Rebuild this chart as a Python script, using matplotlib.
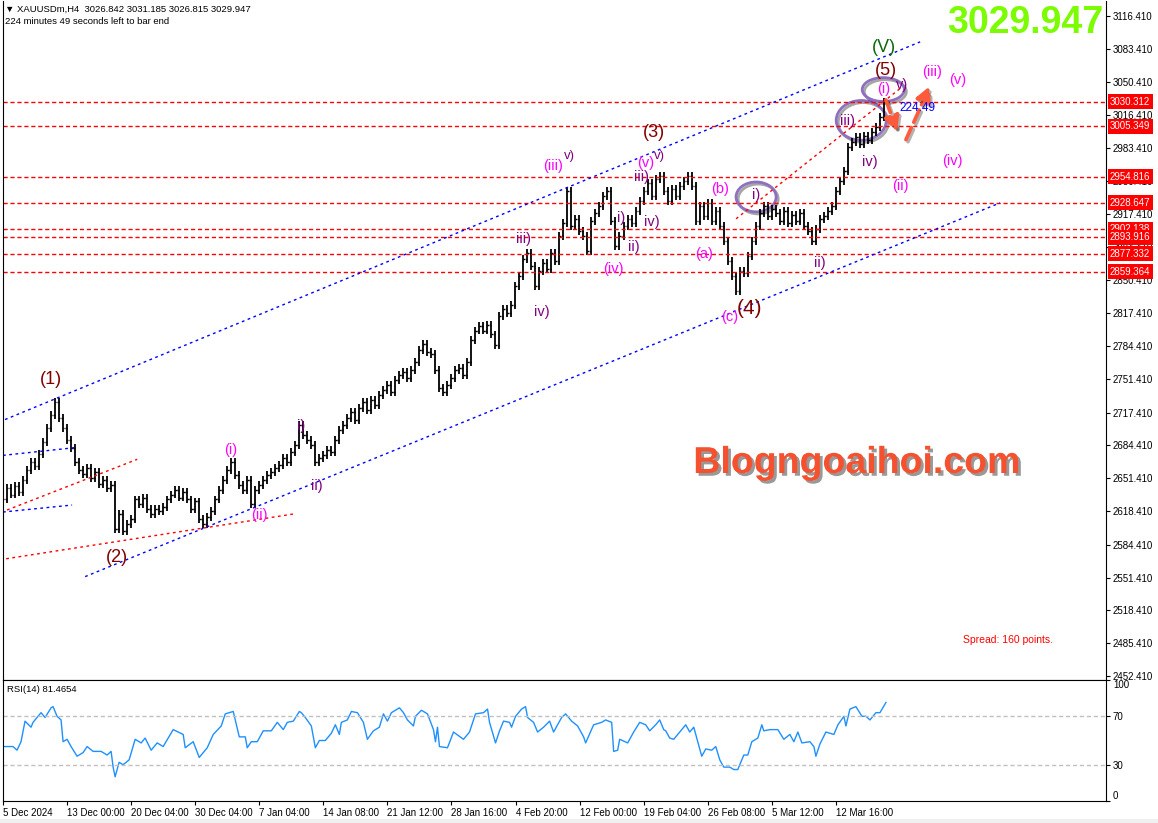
import numpy as np
import matplotlib.pyplot as plt
import matplotlib.patheffects as pe
from matplotlib.patches import Ellipse, Rectangle
from matplotlib.transforms import blended_transform_factory

plt.rcParams['font.family'] = ['Liberation Sans', 'DejaVu Sans']

# XAUUSDm H4 - closes read every 2 bars (bar index 0, 2, 4 ... 440)
close_8h = [
    2630, 2642, 2635, 2644, 2638, 2650, 2660, 2668, 2664, 2676,
    2688, 2702, 2715, 2728, 2712, 2702, 2690, 2682, 2668, 2660,
    2656, 2662, 2652, 2658, 2646, 2650, 2642, 2645, 2600, 2615,
    2598, 2605, 2610, 2630, 2625, 2632, 2620, 2615, 2620, 2618,
    2622, 2630, 2635, 2640, 2632, 2638, 2630, 2620, 2628, 2610,
    2605, 2612, 2618, 2630, 2640, 2650, 2660, 2668, 2655, 2645,
    2640, 2650, 2625, 2640, 2645, 2650, 2655, 2658, 2662, 2665,
    2672, 2668, 2678, 2685, 2705, 2695, 2690, 2685, 2668, 2672,
    2675, 2680, 2678, 2690, 2700, 2705, 2712, 2718, 2710, 2722,
    2728, 2720, 2730, 2725, 2735, 2740, 2745, 2738, 2750, 2755,
    2758, 2752, 2760, 2768, 2780, 2786, 2778, 2776, 2760, 2742,
    2738, 2745, 2752, 2760, 2762, 2755, 2768, 2790, 2800, 2805,
    2800, 2806, 2796, 2785, 2815, 2822, 2818, 2826, 2845, 2855,
    2872, 2878, 2865, 2845, 2860, 2868, 2862, 2878, 2870, 2895,
    2908, 2940, 2905, 2912, 2900, 2895, 2880, 2910, 2918, 2925,
    2935, 2940, 2910, 2885, 2895, 2905, 2912, 2908, 2920, 2930,
    2940, 2948, 2935, 2952, 2955, 2940, 2930, 2942, 2935, 2945,
    2950, 2955, 2945, 2910, 2925, 2915, 2928, 2910, 2920, 2905,
    2890, 2870, 2855, 2840, 2860, 2858, 2875, 2890, 2905, 2918,
    2925, 2915, 2922, 2918, 2910, 2920, 2908, 2916, 2910, 2918,
    2905, 2900, 2890, 2902, 2912, 2915, 2920, 2925, 2940, 2950,
    2960, 2985, 2990, 2995, 2988, 2996, 2992, 3000, 3005, 3015,
    3029.947,
]

# RSI(14) readings: bar index, value
rsi_bar = [0, 5, 7, 9, 11, 14, 15, 19, 21, 24, 25, 27, 29, 30, 32, 34, 37, 40, 42, 45,
           49, 52, 54, 55, 56, 58, 60, 63, 66, 69, 71, 74, 77, 80, 85, 90, 91, 95, 98, 102,
           105, 109, 111, 115, 116, 118, 121, 122, 124, 127, 130, 134, 137, 140, 142, 145, 148,
           149, 151, 154, 156, 158, 161, 164, 166, 168, 169, 172, 174, 177, 180, 182, 185, 188,
           190, 192, 194, 198, 200, 202, 205, 206, 209, 212, 215, 216, 217, 218, 222, 225, 230,
           233, 236, 240, 242, 243, 246, 248, 250, 253, 254, 256, 259, 261, 262, 265, 267, 270,
           273, 275, 279, 281, 284, 287, 290, 291, 295, 299, 301, 304, 305, 307, 308, 312, 315,
           318, 321, 323, 326, 328, 330, 331, 333, 335, 338, 341, 343, 345, 347, 349, 351, 354,
           356, 358, 360, 363, 365, 367, 370, 372, 374, 377, 379, 380, 383, 387, 390, 393, 395,
           397, 399, 403, 405, 406, 408, 411, 415, 417, 420, 421, 423, 426, 429, 431, 433, 436,
           438, 441]
rsi_val = [45, 45, 42, 49, 66, 61, 65, 73, 69, 77, 78, 70, 67, 49, 51, 45, 37, 40, 45, 41,
           41, 38, 41, 28, 20, 32, 30, 34, 51, 48, 52, 42, 48, 45, 59, 55, 44, 49, 36, 44,
           55, 62, 72, 74, 67, 53, 53, 44, 49, 49, 58, 58, 65, 59, 65, 66, 74,
           73, 69, 62, 44, 50, 50, 56, 63, 55, 65, 67, 74, 73, 65, 51, 58, 61,
           72, 66, 73, 77, 73, 67, 62, 70, 75, 72, 59, 49, 61, 45, 44, 57, 51,
           57, 72, 73, 76, 65, 48, 58, 66, 65, 61, 70, 76, 78, 69, 65, 57, 61,
           66, 57, 69, 72, 66, 62, 53, 48, 63, 65, 67, 65, 41, 42, 51, 48, 57,
           65, 63, 58, 63, 67, 59, 58, 52, 51, 57, 63, 57, 61, 49, 37, 43, 42,
           45, 34, 28, 28, 26, 26, 38, 38, 49, 52, 63, 58, 59, 59, 51, 55, 49,
           57, 48, 49, 45, 37, 47, 57, 55, 63, 70, 62, 76, 78, 70, 70, 67, 73,
           73, 81.47]

levels = [3030.312, 3005.349, 2954.816, 2928.647, 2902.138, 2893.916, 2877.332, 2859.364]
price_ticks = [2452.41, 2485.41, 2518.41, 2551.41, 2584.41, 2618.41, 2651.41, 2684.41,
               2717.41, 2751.41, 2784.41, 2817.41, 2850.41, 2884.41, 2917.41, 2950.41,
               2983.41, 3016.41, 3050.41, 3083.41, 3116.41]
date_bars = [0, 32, 64, 96, 128, 160, 192, 224, 256, 288, 320, 352, 384, 416]
date_labels = ['5 Dec 2024', '13 Dec 00:00', '20 Dec 04:00', '30 Dec 04:00', '7 Jan 04:00',
               '14 Jan 08:00', '21 Jan 12:00', '28 Jan 16:00', '4 Feb 20:00', '12 Feb 00:00',
               '19 Feb 04:00', '26 Feb 08:00', '5 Mar 12:00', '12 Mar 16:00']

# wave labels: text, bar, price, colour, size
maroon, magenta, purple, green = '#800000', '#ff00ff', '#800080', '#0a6a0a'
big, mid, sup = 13, 10.5, 9.5
waves = [
    ('(1)', 24, 2751, maroon, big), ('(2)', 57, 2572, maroon, big), ('(3)', 325, 2999, maroon, big),
    ('(4)', 373, 2822, maroon, 15), ('(5)', 441, 3062, maroon, big), ('(V)', 440, 3085, green, big),
    ('(i)', 114, 2680, magenta, mid), ('(ii)', 128, 2614, magenta, mid), ('(iii)', 275, 2966, magenta, mid),
    ('(iv)', 305, 2862, magenta, mid), ('(v)', 321, 2969, magenta, mid), ('(a)', 350, 2877, magenta, mid),
    ('(b)', 358, 2942, magenta, mid), ('(c)', 363, 2814, magenta, mid), ('(ii)', 448, 2945, magenta, mid),
    ('(iv)', 474, 2971, magenta, mid), ('(iii)', 464, 3060, magenta, mid), ('(v)', 477, 3052, magenta, mid),
    ('(i)', 440, 3043, magenta, mid),
    ('i)', 149, 2704, purple, mid), ('ii)', 157, 2644, purple, mid), ('iii)', 260, 2892, purple, mid),
    ('iv)', 269, 2819, purple, mid), ('v)', 283, 2976, purple, sup), ('i)', 309, 2913, purple, mid),
    ('ii)', 315, 2884, purple, mid), ('iii)', 319, 2954, purple, mid), ('iv)', 324, 2909, purple, mid),
    ('v)', 328, 2976, purple, sup), ('i)', 376, 2936, purple, mid), ('ii)', 408, 2868, purple, mid),
    ('iii)', 422, 3011, purple, mid), ('iv)', 433, 2970, purple, mid), ('v)', 449, 3047, purple, mid),
]

# trend lines: (bar0, price0, bar1, price1, colour)
trend_lines = [
    (1.2, 2710.4, 458.1, 3090.4, 'blue'), (41.2, 2552.4, 498.0, 2928.4, 'blue'),
    (0.2, 2674.4, 37.2, 2682.4, 'blue'), (0.2, 2617.4, 34.7, 2624.4, 'blue'),
    (2.2, 2619.4, 67.2, 2670.4, 'red'), (-1.3, 2569.4, 145.2, 2615.4, 'red'),
    (366.2, 2912.4, 448.7, 3044.4, 'red'),
]
circles = [(376.2, 2934.4, 20, 30), (428.7, 3011.4, 25, 40), (439.7, 3042.4, 21, 24)]

W, H = 1158, 823
fig = plt.figure(figsize=(W / 100, H / 100), dpi=100)
ax = fig.add_axes([3 / W, 1 - 680 / H, 1103 / W, 679 / H])
rx = fig.add_axes([3 / W, 1 - 801 / H, 1103 / W, 121 / H])

c = np.array(close_8h, float)
o = np.r_[c[0], c[:-1]]
idx = np.arange(len(c)) * 2
ax.vlines(idx, np.minimum(o, c) - 4, np.maximum(o, c) + 4, color='black', lw=1.3)
ax.hlines(o, idx - 0.9, idx, color='black', lw=1)
ax.hlines(c, idx, idx + 0.9, color='black', lw=1)

for lv in levels:
    ax.axhline(lv, color='red', lw=1, ls=(0, (3, 2)))
for b0, p0, b1, p1, col in trend_lines:
    ax.plot([b0, b1], [p0, p1], color=col, lw=1, ls=(0, (2, 2.5)))

for bx, py, w, h in circles:
    ax.add_patch(Ellipse((bx, py), w, h, fill=False, ec='#8f6fbf', lw=2,
                         path_effects=[pe.SimpleLineShadow(offset=(1.5, -1.5), alpha=0.35), pe.Normal()]))

for txt, bx, py, col, fs in waves:
    ax.text(bx, py, txt, color=col, fontsize=fs, ha='center', va='center')

arrow_kw = dict(arrowstyle='-|>,head_width=0.45,head_length=0.9', color='#ff5a3c', lw=2.6,
                ls='--', shrinkA=0, shrinkB=0,
                path_effects=[pe.SimpleLineShadow(offset=(1.5, -1.5), alpha=0.3), pe.Normal()])
ax.annotate('', xy=(446.6, 3000), xytext=(441, 3032), arrowprops=arrow_kw)
ax.annotate('', xy=(463, 3046), xytext=(451, 2992), arrowprops=arrow_kw)
ax.text(448, 3024, '224.49', color='blue', fontsize=8.5, va='center', ha='left')

ax.set_xlim(0.2, 550.9)
ax.set_ylim(2448.4, 3131.5)
ax.set_xticks([])
ax.yaxis.tick_right()
ax.set_yticks(price_ticks)
ax.set_yticklabels([f'{v:.3f}' for v in price_ticks])
ax.tick_params(axis='y', length=3, pad=2, labelsize=7)
ax.spines['top'].set_visible(False)

tr = blended_transform_factory(ax.transAxes, ax.transData)
for lv in levels:
    ax.text(1.0036, lv, f'{lv:.3f}', transform=tr, color='white', fontsize=7, va='center',
            ha='left', clip_on=False, zorder=10,
            bbox=dict(boxstyle='square,pad=0.25', fc='red', ec='none'))

# RSI pane
rx.plot(rsi_bar, rsi_val, color='#1e90ff', lw=1)
for lv in (70, 30):
    rx.axhline(lv, color='#c0c0c0', lw=1, ls=(0, (3, 2)))
rx.set_xlim(0.2, 550.9)
rx.set_ylim(0, 100)
rx.yaxis.tick_right()
rx.set_yticks([0, 30, 70, 100])
rx.set_yticklabels(['0', '30', '70', '100'])
rx.tick_params(axis='y', length=3, pad=2, labelsize=7, colors='black')
ylabs = rx.get_yticklabels()
ylabs[0].set_va('bottom')
ylabs[3].set_va('top')
rx.set_xticks(date_bars)
rx.set_xticklabels(date_labels)
rx.tick_params(axis='x', length=3, pad=2, labelsize=7)
for lab in rx.get_xticklabels():
    lab.set_ha('left')

fig.text(5 / W, 1 - 9 / H, '\u25bc XAUUSDm,H4  3026.842 3031.185 3026.815 3029.947', fontsize=6.8, va='center')
fig.text(5 / W, 1 - 22 / H, '224 minutes 49 seconds left to bar end', fontsize=6.8, va='center')
fig.text(7 / W, 1 - 689 / H, 'RSI(14) 81.4654', fontsize=6.8, va='center')
fig.text(1103 / W, 1 - 23 / H, '3029.947', fontsize=27, fontweight='bold', color='#7cfc00',
         ha='right', va='center')
fig.text(857 / W, 1 - 463 / H, 'Blogngoaihoi.com', fontsize=27, fontweight='bold', color='#f5512e',
         ha='center', va='center',
         path_effects=[pe.withSimplePatchShadow(offset=(2, -2), shadow_rgbFace='#555555', alpha=0.6)])
fig.text(963 / W, 1 - 640 / H, 'Spread: 160 points.', fontsize=7.5, color='red', va='center')
fig.patches.append(Rectangle((0, 0), 1, 4 / H, transform=fig.transFigure, fc='#f0f0f0', ec='none'))

fig.savefig('out.png', dpi=100)
